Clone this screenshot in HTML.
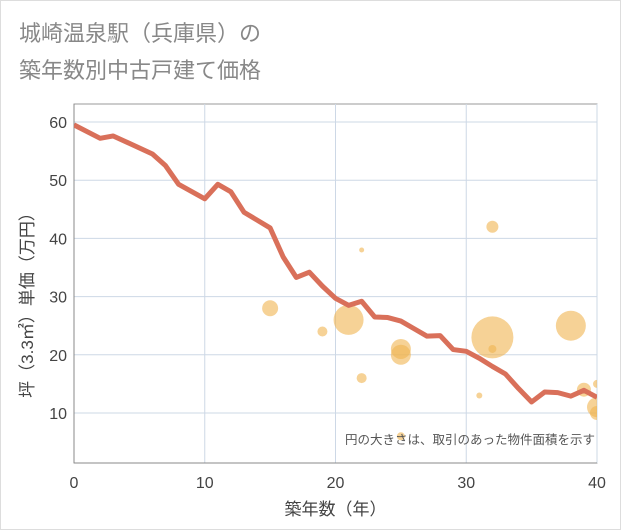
<!DOCTYPE html>
<html><head><meta charset="utf-8"><style>
body{margin:0;background:#fff;font-family:"Liberation Sans","Noto Sans CJK JP",sans-serif}
#wrap{position:relative;width:621px;height:530px;background:#fff;border:1px solid #ddd;box-sizing:border-box}
</style></head><body>
<div id="wrap">
<svg id="chart" width="621" height="530" style="position:absolute;left:0;top:0"></svg>
</div>
<script>
const years=[0,2,3,6,7,8,10,11,12,13,15,16,17,18,19,20,21,22,23,24,25,26,27,28,29,30,31,32,33,34,35,36,37,38,39,40];
const prices=[59.5,57.2,57.6,54.5,52.5,49.3,46.8,49.3,48,44.5,41.8,36.8,33.3,34.2,31.8,29.7,28.5,29.2,26.5,26.4,25.8,24.5,23.2,23.3,20.9,20.6,19.4,18,16.7,14.2,11.9,13.6,13.5,12.9,13.9,12.7];
const bubbleX=[15,19,21,22,22,25,25,25,31,32,32,32,38,39,40,40,40];
const bubbleY=[28,24,26,38,16,21,20,6,13,42,23,21,25,14,15,11,10];
const bubbleR=[8,5,15,2.5,5,10,10,4,3,6,21,4,15,7,4,10,7];
const xTicks=[0,10,20,30,40];
const yTicks=[10,20,30,40,50,60];
const NS="http://www.w3.org/2000/svg";
const svg=document.getElementById('chart');
const L=73,R=596,T=103,B=462;
const xs=v=>L+(v-0)*(R-L)/40;
const ys=v=>412-(v-10)*5.82;
function mk(t,a){const e=document.createElementNS(NS,t);for(const k in a)e.setAttribute(k,a[k]);svg.appendChild(e);return e;}
// titles
let t1=mk('text',{x:18,y:40,'font-size':22,fill:'#888'});t1.textContent='城崎温泉駅（兵庫県）の';

let t2=mk('text',{x:18,y:77,'font-size':22,fill:'#888'});t2.textContent='築年数別中古戸建て価格';

// plot area
let pa=mk('rect',{x:L,y:T,width:R-L,height:B-T,fill:'#fff',stroke:'#999'});

for(const v of xTicks){
 let g=mk('line',{x1:xs(v),x2:xs(v),y1:T,y2:B,stroke:'#cdd8e6','stroke-width':1});
 
 let tx=mk('text',{x:xs(v),y:487,'font-size':16,fill:'#444','text-anchor':'middle'});tx.textContent=v;
 
}
for(const v of yTicks){
 let g=mk('line',{x1:L,x2:R,y1:ys(v),y2:ys(v),stroke:'#cdd8e6','stroke-width':1});
 
 let tx=mk('text',{x:66,y:ys(v)+6,'font-size':16,fill:'#444','text-anchor':'end'});tx.textContent=v;
 
}
let ax=mk('line',{x1:L,x2:L,y1:T,y2:B,stroke:'#888'});
let ax2=mk('line',{x1:L,x2:R,y1:B,y2:B,stroke:'#888'});
const defs=mk('defs',{});
const cp=document.createElementNS(NS,'clipPath');cp.setAttribute('id','clip');defs.appendChild(cp);
const cr=document.createElementNS(NS,'rect');cr.setAttribute('x',L);cr.setAttribute('y',T);cr.setAttribute('width',R-L);cr.setAttribute('height',B-T);cp.appendChild(cr);
const gB=mk('g',{'clip-path':'url(#clip)'});
for(let i=0;i<bubbleX.length;i++){
 const c=document.createElementNS(NS,'circle');
 c.setAttribute('cx',xs(bubbleX[i]));c.setAttribute('cy',ys(bubbleY[i]));c.setAttribute('r',bubbleR[i]);
 c.setAttribute('fill','rgba(240,180,80,0.6)');
 
 
 gB.appendChild(c);
}
let d=years.map((y,i)=>(i?'L':'M')+xs(y)+','+ys(prices[i])).join(' ');
let ln=mk('path',{d:d,fill:'none',stroke:'#d9705a','stroke-width':5,'stroke-linejoin':'round','clip-path':'url(#clip)'});

let note=mk('text',{x:594,y:443,'font-size':12.5,fill:'#555','text-anchor':'end'});note.textContent='円の大きさは、取引のあった物件面積を示す';

let xt=mk('text',{x:(L+R)/2,y:514,'font-size':17,fill:'#444','text-anchor':'middle'});xt.textContent='築年数（年）';

let yt=mk('text',{x:0,y:0,'font-size':17,fill:'#444','text-anchor':'middle',transform:'translate(32,300) rotate(-90)'});yt.textContent='坪（3.3㎡）単価（万円）';

</script>
</body></html>
